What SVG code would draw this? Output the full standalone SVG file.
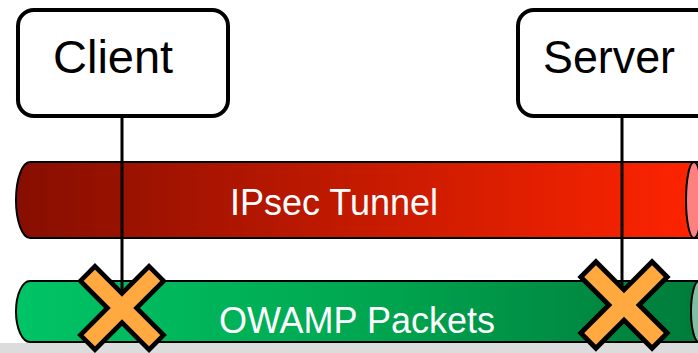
<svg xmlns="http://www.w3.org/2000/svg" width="698" height="353" viewBox="0 0 698 353">
<defs>
<linearGradient id="gRed" x1="0" y1="0" x2="1" y2="0">
<stop offset="0" stop-color="#860E00"/>
<stop offset="0.5" stop-color="#C41A00"/>
<stop offset="1" stop-color="#FF2400"/>
</linearGradient>
<linearGradient id="gGreen" x1="0" y1="0" x2="1" y2="0">
<stop offset="0" stop-color="#00C466"/>
<stop offset="0.5" stop-color="#00A750"/>
<stop offset="1" stop-color="#007A3A"/>
</linearGradient>
<polygon id="xmark" points="0,-14 26,-40 40,-26 14,0 40,26 26,40 0,14 -26,40 -40,26 -14,0 -40,-26 -26,-40"/>
</defs>
<style>
.box{fill:#fff;stroke:#000;stroke-width:4}
.lbl{font-family:"Liberation Sans",Arial,sans-serif;font-size:47px;fill:#000}
.tlbl{font-family:"Liberation Sans",Arial,sans-serif;font-size:36px;fill:#fff;text-anchor:middle}
.tube{stroke:#000;stroke-width:2}
.conn{stroke:#000;stroke-width:3;fill:none}
.x{fill:#FFA940;stroke:#000;stroke-width:4.5;stroke-linejoin:miter}
</style>
<rect x="0" y="0" width="698" height="353" fill="#fff"/>
<g id="ipsec-tunnel">
<path class="tube" fill="url(#gRed)" d="M30,162 H705 V238 H30 A14,38 0 0 1 30,162 Z"/>
<ellipse class="tube" cx="694" cy="200" rx="8" ry="38" fill="#FF8080"/>
<text class="tlbl" x="334" y="215">IPsec Tunnel</text>
</g>
<g id="owamp-packets">
<path class="tube" fill="url(#gGreen)" d="M30,281 H710 V342 H30 A14,30.5 0 0 1 30,281 Z"/>
<ellipse class="tube" cx="699" cy="311.5" rx="8" ry="30.5" fill="#80C0A0"/>
<text class="tlbl" x="357" y="333">OWAMP Packets</text>
</g>
<rect x="0" y="343" width="698" height="10" fill="#DCDCDC"/>
<g id="connectors">
<line class="conn" x1="122" y1="118" x2="122" y2="290"/>
<line class="conn" x1="622" y1="118" x2="622" y2="290"/>
</g>
<g id="client">
<rect class="box" x="18" y="10" width="210" height="106" rx="16"/>
<text class="lbl" x="53" y="73" font-size="48">Client</text>
</g>
<g id="server">
<rect class="box" x="518" y="10" width="220" height="106" rx="16"/>
<text class="lbl" x="543" y="73" textLength="132" lengthAdjust="spacingAndGlyphs">Server</text>
</g>
<g id="client-x">
<use href="#xmark" class="x" transform="translate(122,308) scale(1.04)"/>
</g>
<g id="server-x">
<use href="#xmark" class="x" transform="translate(624,305) scale(1.08)"/>
</g>
</svg>
